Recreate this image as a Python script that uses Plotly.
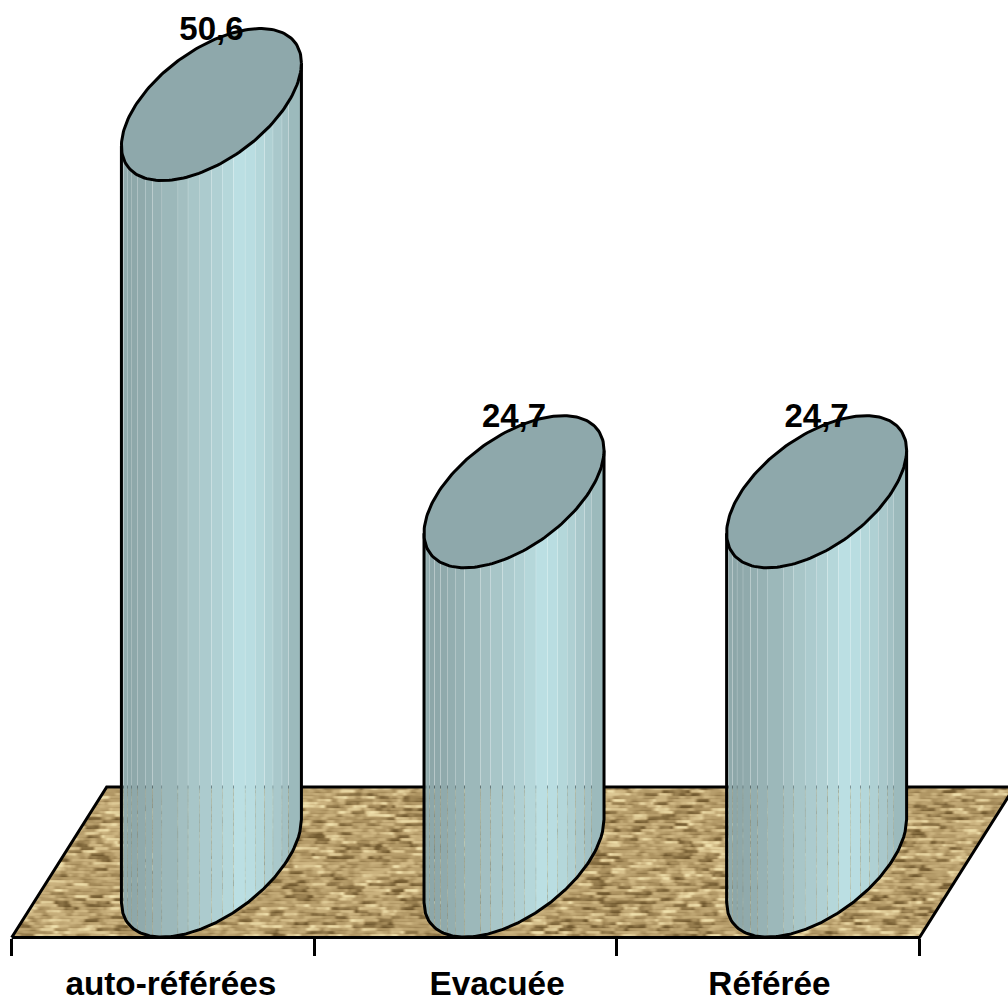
import base64
import struct
import zlib

import numpy as np
import plotly.graph_objects as go

# Chart content
categories = ["auto-référées", "Evacuée", "Référée"]
values = [50.6, 24.7, 24.7]
value_labels = ["50,6", "24,7", "24,7"]

# Canvas and scales
WIDTH, HEIGHT = 1008, 1003
PX_PER_UNIT_Y = 14.95      # pixels per percentage point
PX_PER_UNIT_X = 302.6      # pixels per category slot
ZERO_PX = 861              # pixel row of value 0 (centre of the column bases)
SLOT0_PX = 11.7            # pixel column of the first category boundary
AXIS_PX = 937.5            # pixel row of the category axis

yrange = [(ZERO_PX - HEIGHT) / PX_PER_UNIT_Y, ZERO_PX / PX_PER_UNIT_Y]
xrange = [-SLOT0_PX / PX_PER_UNIT_X, (WIDTH - SLOT0_PX) / PX_PER_UNIT_X]
axis_value = (ZERO_PX - AXIS_PX) / PX_PER_UNIT_Y

# Column geometry, in axis units
COLUMN_OFFSET = 0.66
HALF_W = 90 / PX_PER_UNIT_X
SHEAR = 41.5 / PX_PER_UNIT_Y
OPEN = 63.7 / PX_PER_UNIT_Y
LABEL_LIFT = 4.85
OUTLINE = 3
CAP_COLOR = "#8EA8AB"
SEAM = 0.0012              # gap between facets, lets the background show through

# Facets of the cylinder side: edges as a share of the width, and their fill
facet_edges = [0, .011, .032, .058, .091, .132, .173, .225, .314, .370, .436, .501,
               .560, .622, .687, .743, .795, .842, .892, .929, 1]
facet_colors = ["#93ADAF", "#90AAAC", "#8DA7A9", "#8EA8AA", "#90AAAC", "#93AEB0",
                "#97B2B4", "#9CB8BA", "#A3BFC1", "#A8C6C8", "#ACCBCE", "#B0D0D3",
                "#B5D7DA", "#BBDFE3", "#B9DDE1", "#B4D7DA", "#AFD0D3", "#A9C8CB",
                "#A3C1C4", "#9CBABC"]


def lower_edge(u):
    """Lower rim of the tilted ellipse, relative to its centre, for u in [-1, 1]."""
    return SHEAR * u - OPEN * np.sqrt(np.clip(1 - u ** 2, 0, 1))


def floor_png():
    """Woven sand texture for the floor, masked to its parallelogram."""
    h, w = 150, 997
    yy, xx = np.mgrid[0:h, 0:w]

    def hashed(a, b):
        return np.mod(np.sin(a * 12.9898 + b * 78.233) * 43758.5453, 1.0)

    # Fine bricks, row by row, with a diagonal drift of the joints
    row = yy // 3
    fine = hashed(row + 0.37, ((xx + row * 2 + hashed(row, 3.0) * 6) // 6).astype(int) + 0.11)
    # Long pale and dark dashes running along the rows
    dash = hashed(row + 5.1, ((xx + hashed(row, 9.0) * 30) // 14).astype(int) + 0.73)
    tone = 0.42 + 0.34 * (fine - 0.5)
    tone = tone + 0.30 * (dash > 0.80) - 0.30 * (dash < 0.22)
    # Dark thread between rows, broken up along the diagonal
    thread = np.sin((xx + 3 * yy) / 5.0) * 0.5 + 0.5
    tone = tone - 0.22 * (yy % 3 == 2) * thread

    # Soften the weave a little
    tone = np.apply_along_axis(lambda r: np.convolve(r, [0.2, 0.3, 0.3, 0.2], mode="same"), 1, tone)
    tone = np.apply_along_axis(lambda c: np.convolve(c, [0.15, 0.7, 0.15], mode="same"), 0, tone)
    tone = np.clip(tone + 0.08, 0, 1)

    stops = [0, 0.35, 0.65, 1]
    r = np.interp(tone, stops, [112, 172, 208, 244])
    g = np.interp(tone, stops, [88, 146, 184, 230])
    b = np.interp(tone, stops, [46, 96, 132, 178])

    # Parallelogram mask: sheared left and right sides
    left = 95 * (h - yy) / 150
    right = (919.3 - SLOT0_PX) + 95 * (h - yy) / 150
    alpha = np.clip(xx - left + 0.5, 0, 1) * np.clip(right - xx + 0.5, 0, 1) * 255
    rgba = np.dstack([r, g, b, alpha]).astype(np.uint8)

    def chunk(tag, data):
        body = tag + data
        return struct.pack(">I", len(data)) + body + struct.pack(">I", zlib.crc32(body))

    raw = b"".join(b"\x00" + rgba[i].tobytes() for i in range(h))
    png = b"\x89PNG\r\n\x1a\n" + chunk(b"IHDR", struct.pack(">IIBBBBB", w, h, 8, 6, 0, 0, 0)) \
        + chunk(b"IDAT", zlib.compress(raw, 9)) + chunk(b"IEND", b"")
    return "data:image/png;base64," + base64.b64encode(png).decode()


fig = go.Figure()

# Floor outline
floor_top = (ZERO_PX - 787) / PX_PER_UNIT_Y
depth = 95 / PX_PER_UNIT_X
border = dict(color="black", width=OUTLINE)
fig.add_trace(go.Scatter(x=[0, depth, 3 + depth, 3, 0],
                         y=[axis_value, floor_top, floor_top, axis_value, axis_value],
                         mode="lines", line=border, hoverinfo="skip", showlegend=False))

# Columns
for i, (cat, val) in enumerate(zip(categories, values)):
    cx = i + COLUMN_OFFSET
    for k, color in enumerate(facet_colors):
        a, b = facet_edges[k], facet_edges[k + 1]
        u = 2 * np.linspace(a + SEAM / 2, b - SEAM / 2, 8) - 1
        xs = cx + HALF_W * u
        top = val + lower_edge(u) + 0.05
        bottom = lower_edge(u)
        fig.add_trace(go.Scatter(x=np.r_[xs, xs[::-1]], y=np.r_[top, bottom[::-1]],
                                 mode="lines", fill="toself", fillcolor=color,
                                 line=dict(width=0), hoverinfo="skip", showlegend=False))

    # Side silhouette: left edge, lower rim of the base, right edge
    u = np.linspace(-1, 1, 121)
    fig.add_trace(go.Scatter(x=np.r_[cx - HALF_W, cx + HALF_W * u, cx + HALF_W],
                             y=np.r_[val + lower_edge(-1.0), lower_edge(u), val + lower_edge(1.0)],
                             mode="lines", line=border, hoverinfo="skip", showlegend=False))

    # Top cap
    t = np.linspace(0, 2 * np.pi, 181)
    fig.add_trace(go.Scatter(x=cx + HALF_W * np.cos(t),
                             y=val + SHEAR * np.cos(t) + OPEN * np.sin(t),
                             mode="lines", fill="toself", fillcolor=CAP_COLOR,
                             line=border, hoverinfo="skip", showlegend=False))

# Value labels
fig.add_trace(go.Scatter(x=[i + COLUMN_OFFSET for i in range(len(values))],
                         y=[v + LABEL_LIFT for v in values],
                         mode="text", text=value_labels, textposition="middle center",
                         textfont=dict(family="Liberation Sans", size=33, color="black", weight=700),
                         hoverinfo="skip", showlegend=False))

fig.update_layout(
    width=WIDTH, height=HEIGHT,
    margin=dict(l=0, r=0, t=0, b=0),
    paper_bgcolor="white", plot_bgcolor="white",
    showlegend=False,
    xaxis=dict(
        range=xrange, fixedrange=True, showgrid=False, zeroline=False, showline=False,
        anchor="free", position=(HEIGHT - AXIS_PX) / HEIGHT,
        tickmode="array", tickvals=[0.526, 1.604, 2.504], ticktext=categories,
        ticks="outside", ticklen=17, tickcolor="rgba(0,0,0,0)",
        tickfont=dict(family="Liberation Sans", size=33.3, color="black", weight=700),
        minor=dict(tickmode="array", tickvals=[0, 1, 2, 3], ticks="outside", ticklen=17,
                   tickwidth=2.6, tickcolor="black", showgrid=False),
    ),
    yaxis=dict(range=yrange, fixedrange=True, visible=False),
    images=[dict(source=floor_png(), xref="x", yref="y", x=0, y=floor_top,
                 sizex=997 / PX_PER_UNIT_X, sizey=150 / PX_PER_UNIT_Y,
                 sizing="stretch", layer="below", xanchor="left", yanchor="top")],
)

fig.write_html("out.html", config=dict(displayModeBar=False))
